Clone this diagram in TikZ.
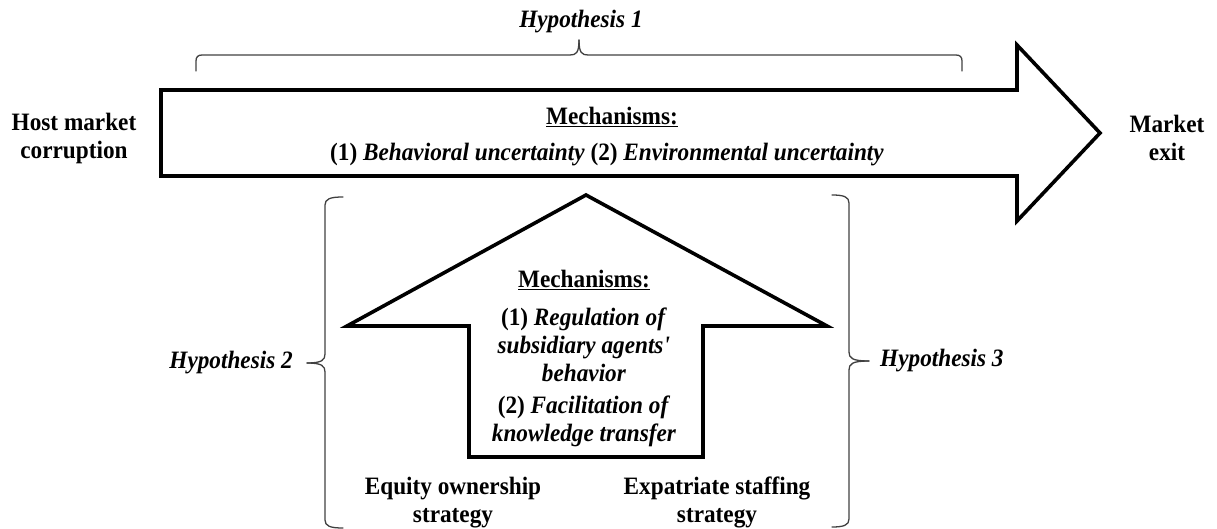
\documentclass[tikz,border=0pt]{standalone}
\usepackage{fontspec}
\setmainfont{Liberation Serif}[FakeStretch=0.93]
\begin{document}
\begin{tikzpicture}[x=1pt,y=-1pt,
  bigarrow/.style={draw=black, line width=3.6pt, line join=miter, fill=white},
  bracket/.style={draw=black!75, line width=1.3pt, line cap=round},
  lbl/.style={font=\fontsize{25}{28}\selectfont\bfseries, align=center, inner sep=0pt},
  hyp/.style={font=\fontsize{25}{28}\selectfont\bfseries\itshape, inner sep=0pt}]
\useasboundingbox (0,0) rectangle (1217,529);

% horizontal block arrow: corruption -> exit
\draw[bigarrow] (161,90) -- (1017,90) -- (1017,45) -- (1100,133) -- (1017,221)
  -- (1017,176) -- (161,176) -- cycle;

% upward block arrow: moderating strategies
\draw[bigarrow] (469,457) -- (469,326) -- (347,326) -- (586,195) -- (827,326)
  -- (703,326) -- (703,457) -- cycle;

% brace over the main effect
\draw[bracket] (196,71) -- (196,61) .. controls (196,57) and (198,55) .. (202,55)
  -- (570,55) .. controls (576,55) and (579,53) .. (579,40);
\draw[bracket] (579,40) .. controls (579,53) and (582,55) .. (588,55)
  -- (956,55) .. controls (960,55) and (962,57) .. (962,61) -- (962,71);

% left brace
\draw[bracket] (343,197) .. controls (330,197) and (325,199) .. (325,205)
  -- (325,354) .. controls (325,360) and (322,363) .. (307,363);
\draw[bracket] (307,363) .. controls (322,363) and (325,366) .. (325,372)
  -- (325,520) .. controls (325,526) and (330,528) .. (343,528);

% right brace
\draw[bracket] (832,195) .. controls (844,195) and (849,197) .. (849,203)
  -- (849,352) .. controls (849,358) and (852,361) .. (869,361);
\draw[bracket] (869,361) .. controls (852,361) and (849,364) .. (849,370)
  -- (849,519) .. controls (849,525) and (844,527) .. (832,527);

% labels
\node[hyp] (h1) at (581,22) {Hypothesis 1};
\node[lbl] (host) at (74,138) {Host market\\corruption};
\node[lbl] (exit) at (1167,138) {Market\\exit};
\node[lbl] (m1) at (612,117) {\underline{Mechanisms:}};
\node[lbl] (m1l) at (607,155) {(1) \textit{Behavioral uncertainty} (2) \textit{Environmental uncertainty}};
\node[lbl] (m2) at (584,280) {\underline{Mechanisms:}};
\node[lbl] (reg) at (584,345) {(1) \textit{Regulation of}\\\textit{subsidiary agents\textquotesingle}\\\textit{behavior}};
\node[lbl] (fac) at (584,421) {(2) \textit{Facilitation of}\\\textit{knowledge transfer}};
\node[hyp, anchor=east] (h2) at (293,363) {Hypothesis 2};
\node[hyp, anchor=west] (h3) at (880,361) {Hypothesis 3};
\node[lbl] (eq) at (453,503) {Equity ownership\\strategy};
\node[lbl] (ex) at (717,502) {Expatriate staffing\\strategy};
\end{tikzpicture}
\end{document}
